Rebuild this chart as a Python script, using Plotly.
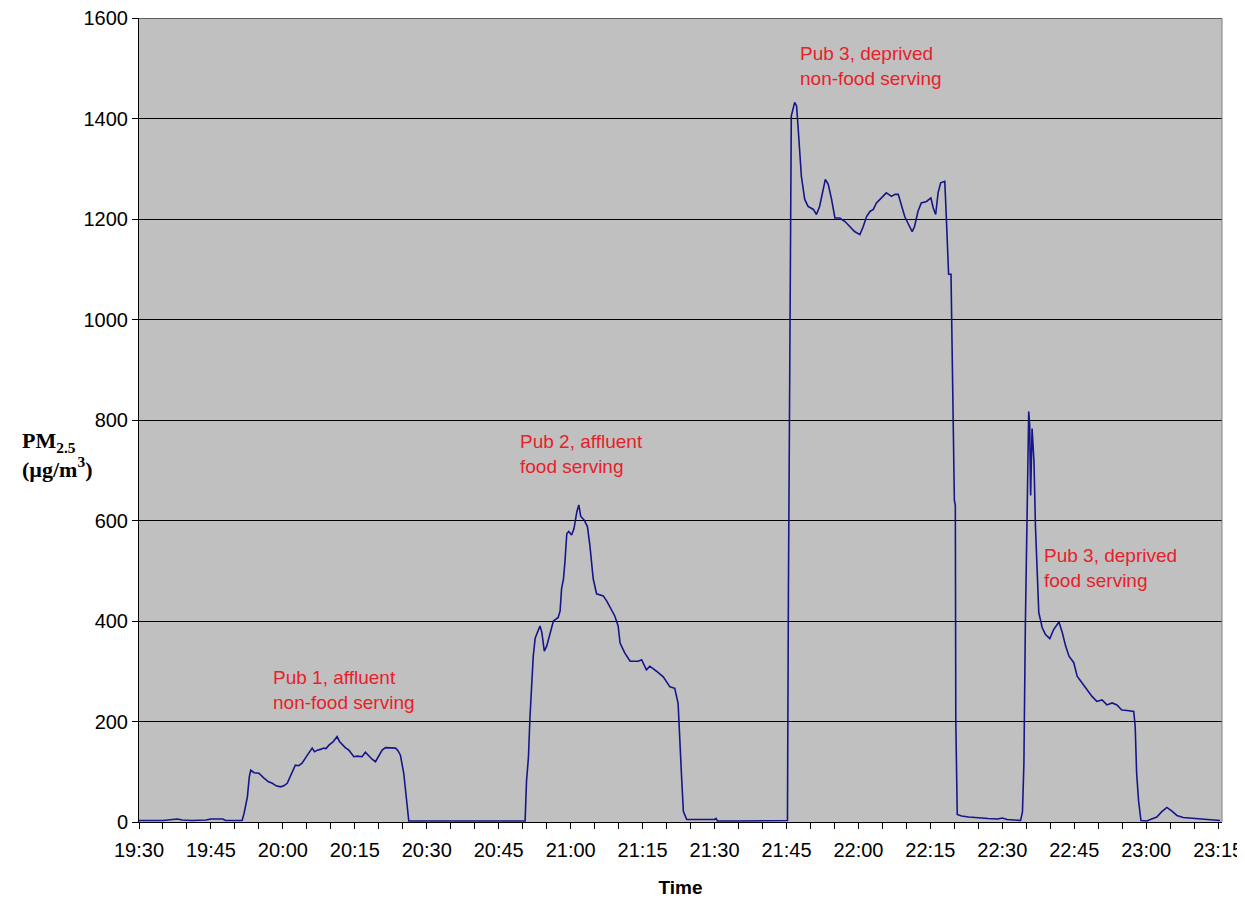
import pandas as pd
import plotly.graph_objects as go

# Minutes after 19:30 and PM2.5 concentration (µg/m³)
minutes = [
    0, 2, 5, 8, 9, 11, 14, 15, 17.5, 18, 21.5,
    21.9, 22.6, 23.0, 23.3, 24.0, 25.0, 26.0, 27.0, 27.8, 28.6, 29.5, 30.2, 30.9, 31.8,
    32.6, 33.3, 34.0, 35.1, 36.1, 36.6, 37.2, 38.0, 38.5, 39.0, 39.6, 40.5, 41.3, 41.8,
    42.4, 43.0, 43.75, 44.3, 44.8, 45.5, 46.5, 47.2, 48.0, 48.6, 49.3, 50.0, 50.7, 51.4,
    52.1, 53.0, 53.5, 54.0, 54.5, 55.2, 55.6, 55.9, 56.25,
    57, 60, 65, 70, 75, 80, 80.5,
    80.8, 81.2, 81.5, 81.9, 82.2, 82.6, 83.3, 83.6, 84.0, 84.5, 85.0, 85.7, 86.4, 87.4,
    87.8, 88.1, 88.5, 88.8, 89.2, 89.6, 90.2, 90.7, 91.3, 91.7, 92.1, 92.8, 93.5, 94.0,
    94.7, 95.4, 96.8, 97.5, 98.5, 99.2, 99.9, 100.3, 101.3, 102.4, 104.1, 104.8, 105.8,
    106.5, 107.9, 109.3, 110.7, 111.7, 112.4, 112.8, 113.1, 113.5, 114.2, 117, 120,
    120.3, 120.6, 125, 130, 135.2,
    135.4, 135.7, 136.0, 136.7, 137.1, 137.4, 137.8, 138.1, 138.8, 139.5, 140.6, 141.25,
    141.9, 142.6, 143.1, 143.7, 144.4, 145.1, 146.1, 147.2, 148.2, 149.2, 150.3, 151.0,
    151.7, 152.4, 153.1, 153.75, 154.8, 155.8, 156.9, 157.6, 158.3, 159.0, 159.65, 160.3,
    161.2, 161.7, 162.4, 163.1, 164.2, 165.1, 165.6, 166.1, 166.6, 167.15, 168.0, 168.3,
    168.8, 169.3, 169.5, 169.8, 170.0, 170.2, 170.3, 170.6, 171.5, 173, 175, 177, 179,
    180, 181, 183.8, 184.2,
    184.5, 184.8, 185.2, 185.5, 185.7, 185.9, 186.2, 186.6, 186.9, 187.3, 187.6, 188.3,
    189.0, 189.9, 190.7, 191.8, 192.5, 193.2, 193.9, 194.9, 195.6, 196.6, 197.7, 198.7,
    199.7, 200.8, 201.8, 202.9, 203.9, 204.9, 206.0, 207.4, 207.7, 208.0, 208.4, 208.9,
    210.1, 211.2, 212.2, 213.2, 214.3, 215.3, 216.4, 217.7, 219.8, 221.9, 225.4,
]
pm25 = [
    3, 3, 3, 6, 4, 3, 4, 6, 6, 3, 3,
    17, 50, 90, 103, 98, 97, 88, 80, 77, 72, 70, 72, 77, 95,
    113, 112, 117, 133, 147, 140, 143, 145, 147, 146, 153, 160, 170, 160,
    153, 148, 143, 135, 130, 131, 130, 139, 130, 125, 120, 132, 143, 148,
    148, 148, 147, 142, 133, 97, 60, 30, 2,
    2, 2, 2, 2, 2, 2, 2,
    82, 129, 206, 269, 330, 366, 383, 390, 377, 340, 350, 377, 400, 407,
    420, 464, 484, 517, 574, 578, 571, 584, 618, 631, 608, 601, 588, 551,
    484, 454, 450, 440, 423, 410, 390, 356, 336, 320, 320, 323, 303,
    310, 300, 289, 269, 266, 236, 169, 95, 21, 5, 5, 5,
    7, 2, 2, 2, 3,
    458, 930, 1405, 1432, 1425, 1385, 1332, 1285, 1239, 1225, 1219, 1209,
    1225, 1259, 1279, 1269, 1239, 1202, 1202, 1195, 1185, 1175, 1169, 1185,
    1205, 1215, 1219, 1232, 1242, 1252, 1245, 1249, 1249, 1225, 1205, 1192,
    1175, 1185, 1215, 1232, 1235, 1242, 1222, 1209, 1252, 1272, 1275, 1209,
    1090, 1090, 968, 720, 640, 630, 200, 15, 12, 10, 8, 7, 6,
    8, 5, 3, 20,
    117, 390, 650, 817, 790, 650, 783, 717, 590, 483, 417, 387,
    373, 365, 383, 398, 377, 350, 330, 317, 290, 277, 263, 250,
    240, 243, 233, 237, 233, 223, 222, 220, 190, 97, 43, 3,
    2, 7, 10, 20, 29, 22, 13, 9, 7, 5, 3,
]

# Annotations: text, minutes after 19:30, PM2.5 level of the label centre
label_texts = [
    "Pub 1, affluent<br>non-food serving",
    "Pub 2, affluent<br>food serving",
    "Pub 3, deprived<br>non-food serving",
    "Pub 3, deprived<br>food serving",
]
label_minutes = [27.6, 79.1, 137.5, 188.2]
label_levels = [262, 733, 1505, 506]

y_ticks = [0, 200, 400, 600, 800, 1000, 1200, 1400, 1600]

base = pd.Timestamp("2000-01-01 19:30:00")
times = [base + pd.Timedelta(minutes=m) for m in minutes]
label_times = [base + pd.Timedelta(minutes=m) for m in label_minutes]

FONT = "Liberation Sans, Arial, sans-serif"

fig = go.Figure()
fig.add_trace(go.Scatter(
    x=times, y=pm25, mode="lines",
    line=dict(color="#16168a", width=1.6),
    showlegend=False,
))

for t, tx, lv in zip(label_texts, label_times, label_levels):
    fig.add_annotation(
        x=tx, y=lv, xref="x", yref="y", text=t, showarrow=False,
        xanchor="left", yanchor="middle", align="left",
        font=dict(family=FONT, size=19, color="#e8202a"),
    )

fig.add_annotation(
    xref="paper", yref="paper", x=-0.11, y=0.456,
    text="<b>PM<sub>2.5</sub><br>(µg/m<sup>3</sup>)</b>",
    showarrow=False, xanchor="left", yanchor="middle", align="left",
    font=dict(family="Liberation Serif, Times New Roman, serif", size=22, color="black"),
)

fig.update_layout(
    width=1245, height=899,
    margin=dict(l=131, r=31, t=10, b=85),
    paper_bgcolor="white",
    plot_bgcolor="#c0c0c0",
    font=dict(family=FONT, size=20, color="black"),
    xaxis=dict(
        type="date",
        range=[base, base + pd.Timedelta(minutes=225.8)],
        tickformat="%H:%M",
        tick0=base, dtick=15 * 60 * 1000,
        ticks="outside", ticklen=6, tickcolor="black", tickwidth=1,
        minor=dict(dtick=5 * 60 * 1000, ticks="outside", ticklen=6,
                   tickcolor="black", showgrid=False),
        showgrid=False, showline=True, linecolor="black", linewidth=1,
        zeroline=False, automargin=False, ticklabeloverflow="allow",
        title=dict(text="<b>Time</b>", font=dict(family=FONT, size=19), standoff=20),
        ticklabelstandoff=4,
    ),
    yaxis=dict(
        range=[0, 1600], tickvals=y_ticks,
        ticks="outside", ticklen=6, tickcolor="black",
        showgrid=True, gridcolor="black", gridwidth=1,
        showline=True, linecolor="black", linewidth=1,
        zeroline=False, automargin=False, ticklabeloverflow="allow",
    ),
    shapes=[
        dict(type="line", xref="paper", yref="paper", x0=1, x1=1, y0=0, y1=1,
             line=dict(color="#808080", width=1)),
        dict(type="line", xref="paper", yref="y", x0=0, x1=1, y0=y_ticks[-1], y1=y_ticks[-1],
             line=dict(color="black", width=1), layer="below"),
    ],
)

fig.write_html("out.html")
